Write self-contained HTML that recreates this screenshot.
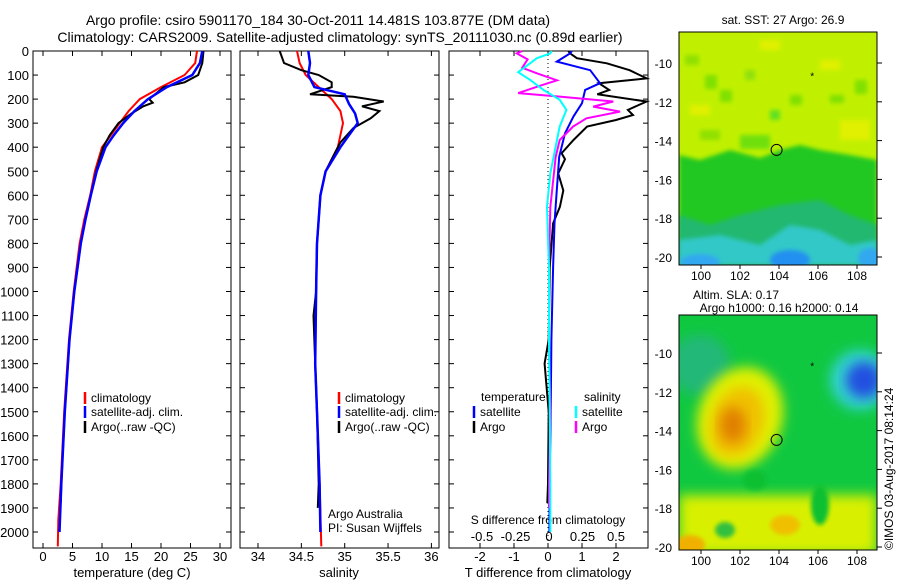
<!DOCTYPE html>
<html><head><meta charset="utf-8"><style>
body{margin:0;background:#fff;}
svg{font-family:"Liberation Sans",sans-serif;}
</style></head><body>
<svg id="c" width="900" height="580" viewBox="0 0 900 580" xmlns="http://www.w3.org/2000/svg">
<defs>
<filter id="bl" x="-20%" y="-20%" width="140%" height="140%"><feGaussianBlur stdDeviation="6"/></filter>
<filter id="bl2" x="-20%" y="-20%" width="140%" height="140%"><feGaussianBlur stdDeviation="2"/></filter>
<clipPath id="m1"><rect x="679" y="32" width="198" height="233"/></clipPath>
<clipPath id="m2"><rect x="679" y="315" width="198" height="235"/></clipPath>
</defs>
<text x="318" y="25" font-size="14" text-anchor="middle">Argo profile: csiro 5901170_184 30-Oct-2011 14.481S 103.877E (DM data)</text>
<text x="340" y="42" font-size="14" text-anchor="middle">Climatology: CARS2009. Satellite-adjusted climatology: synTS_20111030.nc (0.89d earlier)</text>

<g clip-path="url(#m1)">
<rect x="679" y="32" width="198" height="233" fill="#c0f000"/>
<g filter="url(#bl2)">
<rect x="685" y="55" width="14" height="10" fill="#90e000"/><rect x="705" y="75" width="12" height="14" fill="#80e000"/>
<rect x="720" y="90" width="12" height="12" fill="#80e000"/><rect x="745" y="70" width="10" height="10" fill="#90e010"/>
<rect x="770" y="110" width="10" height="10" fill="#60e020"/><rect x="790" y="95" width="12" height="10" fill="#80e000"/>
<rect x="700" y="130" width="20" height="10" fill="#90e000"/><rect x="830" y="95" width="14" height="8" fill="#80e000"/>
<rect x="740" y="135" width="30" height="14" fill="#70e010"/><rect x="820" y="60" width="20" height="10" fill="#e0f000"/>
<rect x="840" y="120" width="30" height="20" fill="#e0f000"/><rect x="760" y="40" width="20" height="10" fill="#e0f000"/>
<rect x="690" y="105" width="20" height="10" fill="#e0f000"/><rect x="855" y="80" width="12" height="14" fill="#80e000"/>
</g>
<path d="M679 155 L700 160 L730 150 L760 158 L780 150 L800 145 L820 150 L850 155 L877 160 L877 265 L679 265 Z" fill="#20c820" filter="url(#bl2)"/>
<path d="M679 215 L710 225 L740 215 L780 205 L820 200 L850 215 L877 225 L877 265 L679 265 Z" fill="#20b870" filter="url(#bl2)"/>
<path d="M679 240 L720 235 L760 245 L790 225 L820 230 L850 245 L877 240 L877 265 L679 265 Z" fill="#30c8c8" filter="url(#bl2)"/>
<ellipse cx="790" cy="260" rx="20" ry="10" fill="#2090f0" filter="url(#bl2)"/>
<ellipse cx="700" cy="262" rx="20" ry="8" fill="#30a8f0" filter="url(#bl2)"/>
<ellipse cx="870" cy="258" rx="12" ry="10" fill="#30a8f0" filter="url(#bl2)"/>
</g>
<rect x="679" y="32" width="198" height="233" fill="none" stroke="#000"/>

<g clip-path="url(#m2)">
<rect x="679" y="315" width="198" height="235" fill="#10c840"/>
<ellipse cx="700" cy="365" rx="30" ry="30" fill="#20b878" filter="url(#bl)"/>
<rect x="679" y="495" width="198" height="60" fill="#d8f000" filter="url(#bl)"/>
<ellipse cx="740" cy="418" rx="42" ry="52" fill="#e0f000" filter="url(#bl)" transform="rotate(20 740 418)"/>
<ellipse cx="737" cy="422" rx="26" ry="36" fill="#f0c000" filter="url(#bl)" transform="rotate(20 737 422)"/>
<ellipse cx="733" cy="425" rx="13" ry="18" fill="#e08000" filter="url(#bl)"/>
<ellipse cx="860" cy="380" rx="30" ry="30" fill="#30d0d0" filter="url(#bl)"/>
<ellipse cx="864" cy="380" rx="18" ry="18" fill="#2050e0" filter="url(#bl)"/>
<ellipse cx="755" cy="480" rx="12" ry="10" fill="#10c030" filter="url(#bl2)"/>
<ellipse cx="820" cy="505" rx="9" ry="20" fill="#10c030" filter="url(#bl2)"/>
<ellipse cx="725" cy="530" rx="10" ry="8" fill="#30c040" filter="url(#bl2)"/>
<ellipse cx="785" cy="525" rx="15" ry="10" fill="#f0c000" filter="url(#bl2)"/>
<ellipse cx="690" cy="545" rx="15" ry="10" fill="#f0b000" filter="url(#bl2)"/>
</g>
<rect x="679" y="315" width="198" height="235" fill="none" stroke="#000"/>
<text x="783" y="24" font-size="12" text-anchor="middle">sat. SST: 27 Argo: 26.9</text>
<text x="736" y="299" font-size="12" text-anchor="middle">Altim. SLA: 0.17</text>
<text x="779" y="312" font-size="12" text-anchor="middle">Argo h1000: 0.16 h2000: 0.14</text>
<text transform="translate(893,550) rotate(-90)" font-size="12">©IMOS 03-Aug-2017 08:14:24</text>
<g id="lay"></g>
</svg>
<script>
// ---- data ----
const depthTicks=[0,100,200,300,400,500,600,700,800,900,1000,1100,1200,1300,1400,1500,1600,1700,1800,1900,2000];
const tempTicks=[0,5,10,15,20,25,30];
const salTicks=[34,34.5,35,35.5,36];
const salTickLabels=["34","34.5","35","35.5","36"];
const tdiffTicks=[-2,-1,0,1,2];
const sdiffTicks=[-0.5,-0.25,0,0.25,0.5];
const sdiffTickLabels=["-0.5","-0.25","0","0.25","0.5"];
const latTicks=[-10,-12,-14,-16,-18,-20];
const lonTicks=[100,102,104,106,108];

const tClimDepth=[0,50,100,150,200,250,300,350,400,500,600,700,800,1000,1200,1500,1800,1950,2060];
const tClimVal=[26.1,25.8,24,20,16.4,14.5,13,11.5,10,8.8,8,7,6.2,5.2,4.4,3.6,3,2.6,2.5];
const tSatDepth=[0,50,100,150,200,250,300,350,400,500,600,700,800,1000,1200,1500,1800,2000];
const tSatVal=[27,26.6,25.3,21,17.8,15.5,13.6,12,10.6,9.1,8.1,7.2,6.4,5.3,4.5,3.7,3.1,2.8];
const tArgoDepth=[0,50,100,130,150,200,215,230,260,300,350,400,500,600,700,800,1000,1200,1500,1800,1880];
const tArgoVal=[27.2,27,26.3,24,20.5,18,18.6,17,15,12.8,11.3,10.2,9,8.1,7.2,6.4,5.3,4.5,3.7,3.1,3];

const sClimDepth=[0,50,100,150,200,250,300,400,500,600,800,1000,1300,1500,1800,2060];
const sClimVal=[34.45,34.48,34.55,34.7,34.85,34.95,34.98,34.92,34.78,34.72,34.68,34.67,34.66,34.68,34.71,34.73];
const sSatDepth=[0,50,100,150,180,220,260,300,350,400,500,600,800,1000,1300,1500,1800,2000];
const sSatVal=[34.58,34.6,34.58,34.65,35,35.05,35.12,35.15,35.05,34.95,34.78,34.72,34.68,34.67,34.66,34.68,34.71,34.72];
const sArgoDepth=[0,50,80,100,130,150,180,190,210,230,250,280,320,380,450,500,600,800,1000,1100,1300,1500,1800,1900];
const sArgoVal=[34.25,34.3,34.5,34.7,34.85,34.85,34.6,35.1,35.45,35.2,35.4,35.3,35.1,34.95,34.85,34.78,34.72,34.68,34.67,34.64,34.66,34.68,34.7,34.69];

const tdSatDepth=[0,10,44,80,134,162,217,272,342,440,578,717,900,1200,1500,1800,2000];
const tdSatVal=[0.7,0.65,0.26,1.24,1.53,1.09,1.0,0.75,0.5,0.33,0.26,0.19,0.15,0.1,0.08,0.05,0.04];
const tdArgoDepth=[0,10,30,51,80,114,134,162,180,210,245,266,287,314,370,425,450,509,580,648,717,900,1200,1300,1500,1800,1880];
const tdArgoVal=[0.6,0.65,0.85,1.73,2.4,2.9,1.5,1.8,1.45,2.9,2.35,2.5,2.0,1.15,0.75,0.4,0.5,0.3,0.45,0.35,0.15,0.05,0.02,-0.1,0.02,0.0,-0.02];
const sdSatDepth=[0,10,30,88,120,162,203,245,314,397,509,648,900,1200,1500,1800,2000];
const sdSatVal=[0.02,0.01,-0.09,-0.23,-0.14,-0.04,0.08,0.13,0.08,0.05,0.01,-0.015,0.0,0.0,0.005,0.01,0.01];
const sdArgoDepth=[0,10,35,70,95,122,143,175,189,210,231,252,280,314,370,440,650,900,1200,1500,1800,1900];
const sdArgoVal=[-0.2,-0.24,-0.16,-0.2,-0.08,0.06,-0.06,-0.23,0.07,0.48,0.33,0.53,0.28,0.18,0.08,0.05,0.01,0.0,0.0,0.01,0.0,0.0];

// ---- axes ----
const Y0=51, PPD=0.2405, YB=548;
const yD=d=>Y0+d*PPD;
const xT=t=>43+5.9*t;
const xS=s=>258+86.7*(s-34);
const xTD=t=>548+34*t;
const xSD=s=>549+134*s;
const mapX=lon=>701+(lon-100)*19.5;
const map1Y=lat=>63+(-10-lat)*19.4;
const map2Y=lat=>353+(-10-lat)*19.4;

const NS="http://www.w3.org/2000/svg";
const lay=document.getElementById('lay');
function mk(tag,attrs,parent){const e=document.createElementNS(NS,tag);for(const k in attrs)e.setAttribute(k,attrs[k]);(parent||lay).appendChild(e);return e;}
function txt(x,y,s,anchor,size,name){const e=mk('text',{x:x,y:y,'font-size':size||12,'text-anchor':anchor||'middle'});e.textContent=s;


return e;}
function line(xs,ds,fx,color,w,name){const p=mk('polyline',{points:xs.map((v,i)=>fx(v).toFixed(1)+','+yD(ds[i]).toFixed(1)).join(' '),fill:'none',stroke:color,'stroke-width':w||2});

}

const panels=[[33,231,'temperature-panel'],[240,439,'salinity-panel'],[449,648,'difference-panel']];
panels.forEach(([l,r,n])=>{
 const f=mk('rect',{x:l,y:Y0,width:r-l,height:YB-Y0,fill:'none',stroke:'#000'});
 
 
 depthTicks.forEach(d=>{mk('line',{x1:l,x2:l+5,y1:yD(d),y2:yD(d),stroke:'#000'});mk('line',{x1:r,x2:r-5,y1:yD(d),y2:yD(d),stroke:'#000'});});
});
depthTicks.forEach(d=>txt(29,yD(d)+5,String(d),'end',13,'depth-tick-label'));
tempTicks.forEach(t=>{mk('line',{x1:xT(t),x2:xT(t),y1:YB,y2:YB-5,stroke:'#000'});mk('line',{x1:xT(t),x2:xT(t),y1:Y0,y2:Y0+5,stroke:'#000'});txt(xT(t),561,String(t),'middle',13,'temperature-tick-label');});
salTicks.forEach((s,i)=>{mk('line',{x1:xS(s),x2:xS(s),y1:YB,y2:YB-5,stroke:'#000'});mk('line',{x1:xS(s),x2:xS(s),y1:Y0,y2:Y0+5,stroke:'#000'});txt(xS(s),561,salTickLabels[i],'middle',13,'salinity-tick-label');});
tdiffTicks.forEach(t=>{mk('line',{x1:xTD(t),x2:xTD(t),y1:YB,y2:YB-5,stroke:'#000'});mk('line',{x1:xTD(t),x2:xTD(t),y1:Y0,y2:Y0+5,stroke:'#000'});txt(xTD(t),561,String(t),'middle',13,'tdiff-tick-label');});
sdiffTicks.forEach((s,i)=>txt(xSD(s),541,sdiffTickLabels[i],'middle',13,'sdiff-tick-label'));
txt(548,524,'S difference from climatology','middle',12,'sdiff-axis-title');
txt(132,577,'temperature (deg C)','middle',13,'temperature-axis-title');
txt(339,577,'salinity','middle',13,'salinity-axis-title');
txt(548,577,'T difference from climatology','middle',13,'tdiff-axis-title');
const dz=mk('line',{x1:548,x2:548,y1:Y0,y2:YB,stroke:'#000','stroke-dasharray':'1,3'});



line(tClimVal,tClimDepth,xT,'#f00',2,'temp-climatology-line');
line(tArgoVal,tArgoDepth,xT,'#000',2,'temp-argo-line');
line(tSatVal,tSatDepth,xT,'#00f',2.5,'temp-satellite-line');
line(sClimVal,sClimDepth,xS,'#f00',2,'sal-climatology-line');
line(sArgoVal,sArgoDepth,xS,'#000',2,'sal-argo-line');
line(sSatVal,sSatDepth,xS,'#00f',2.5,'sal-satellite-line');
line(tdArgoVal,tdArgoDepth,xTD,'#000',2,'tdiff-argo-line');
line(tdSatVal,tdSatDepth,xTD,'#00f',2,'tdiff-satellite-line');
line(sdArgoVal,sdArgoDepth,xSD,'#f0f',2,'sdiff-argo-line');
line(sdSatVal,sdSatDepth,xSD,'#0ff',2,'sdiff-satellite-line');

// legends
function leg(x,y,c,label,name){mk('line',{x1:x,x2:x,y1:y-10,y2:y+2,stroke:c,'stroke-width':2.5});txt(x+6,y,label,'start',12,name);}
leg(85,402,'#f00','climatology','legend-climatology');
leg(85,416,'#00f','satellite-adj. clim.','legend-satellite');
leg(85,431,'#000','Argo(..raw -QC)','legend-argo');
leg(339,402,'#f00','climatology','legend-climatology-2');
leg(339,416,'#00f','satellite-adj. clim.','legend-satellite-2');
leg(339,431,'#000','Argo(..raw -QC)','legend-argo-2');
txt(481,401,'temperature','start',12,'legend-temperature-heading');
txt(584,401,'salinity','start',12,'legend-salinity-heading');
leg(474,416,'#00f','satellite','legend-t-satellite');
leg(474,431,'#000','Argo','legend-t-argo');
leg(576,416,'#0ff','satellite','legend-s-satellite');
leg(576,431,'#f0f','Argo','legend-s-argo');
txt(328,518,'Argo Australia','start',12,'credit-argo-australia');
txt(328,532,'PI: Susan Wijffels','start',12,'credit-pi');

// map axes
[[map1Y,265],[map2Y,550]].forEach(([fy,bot],mi)=>{
 latTicks.forEach(l=>{mk('line',{x1:877,x2:882,y1:fy(l),y2:fy(l),stroke:'#000'});txt(672,fy(l)+5,String(l),'end',12,'map-lat-label');});
 lonTicks.forEach(l=>{mk('line',{x1:mapX(l),x2:mapX(l),y1:bot,y2:bot+4,stroke:'#000'});txt(mapX(l),bot+15,String(l),'middle',12,'map-lon-label');});
 const c=mk('circle',{cx:mapX(103.877),cy:fy(-14.481),r:5.5,fill:'none',stroke:'#000'});
 
 
 const s=mk('text',{x:mapX(105.7),y:fy(-10.6)+5,'font-size':10,'text-anchor':'middle'});s.textContent='*';
 
 
});
</script>
</body></html>
